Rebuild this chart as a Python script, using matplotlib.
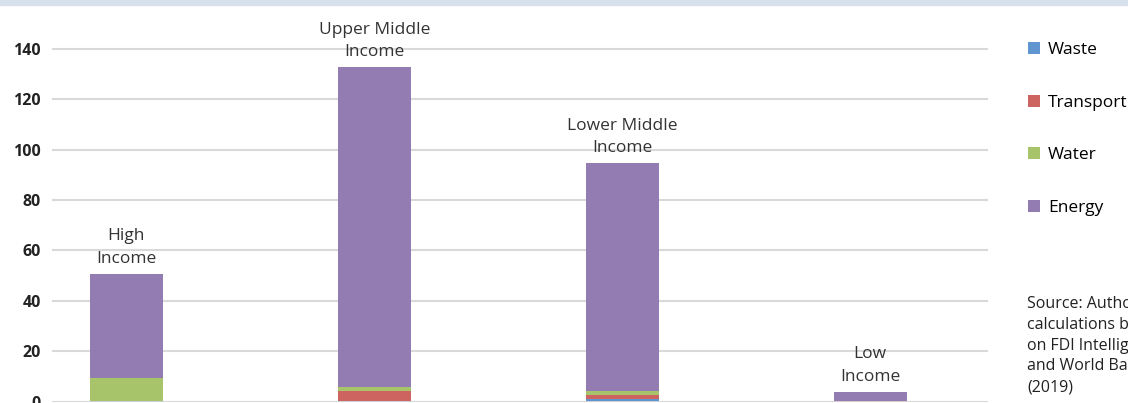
import matplotlib.pyplot as plt
from matplotlib.patches import Rectangle

plt.rcParams['font.family'] = ['Open Sans', 'DejaVu Sans']

# data
groups = ['High\nIncome', 'Upper Middle\nIncome', 'Lower Middle\nIncome', 'Low\nIncome']
waste = [0.3, 0.3, 1.0, 0.0]
transport = [0.0, 3.9, 1.6, 0.3]
water = [9.0, 1.6, 1.6, 0.0]
energy = [41.3, 126.9, 90.4, 3.5]

series = [('Waste', waste, '#5f96cf'),
          ('Transport', transport, '#cd6460'),
          ('Water', water, '#a8c46a'),
          ('Energy', energy, '#927cb2')]

fig = plt.figure(figsize=(11.28, 4.03), dpi=100)
ax = fig.add_axes([52 / 1128, 1.5 / 403, (988 - 52) / 1128, (401.5 - 23.5) / 403])

# light band at the top of the figure
fig.patches.append(Rectangle((0, 1 - 5 / 403), 1, 5 / 403, transform=fig.transFigure,
                             color='#d7e1ed', zorder=0))

x = range(len(groups))
bottom = [0.0] * len(groups)
handles = []
for name, vals, col in series:
    b = ax.bar(x, vals, width=0.295, bottom=bottom, color=col, label=name, zorder=3)
    handles.append(b)
    bottom = [bt + v for bt, v in zip(bottom, vals)]

for i, (lab, tot) in enumerate(zip(groups, bottom)):
    ax.annotate(lab, (i, tot), xytext=(0, 5), textcoords='offset points',
                ha='center', va='bottom', fontsize=12.5, color='#333333',
                linespacing=1.55, annotation_clip=False)

ax.set_xlim(-0.3, 3.475)
ax.set_ylim(0, 150)
ax.set_yticks(range(0, 141, 20))
ax.set_xticks([])
ax.yaxis.grid(True, color='#d9d9d9', linewidth=1.5, zorder=0)
ax.set_axisbelow(True)
for s in ax.spines.values():
    s.set_visible(False)
ax.tick_params(axis='y', length=0, pad=8, labelsize=11.5, labelcolor='#222222')
for t in ax.get_yticklabels():
    t.set_fontweight('bold')
ax.axhline(0, color='#d9d9d9', linewidth=2, zorder=4)

leg = fig.legend(handles=handles, loc='upper left', bbox_to_anchor=(1021 / 1128, 1 - 35 / 403),
                 frameon=False, fontsize=12.5, labelspacing=2.1, handlelength=0.7,
                 handleheight=0.7, handletextpad=0.45, borderaxespad=0)

fig.text(1027 / 1128, 1 - 296 / 403,
         "Source: Authors'\ncalculations based\non FDI Intelligence\nand World Bank\n(2019)",
         fontsize=11.5, color='#222222', va='top', ha='left', linespacing=1.4)

fig.savefig('out.png', dpi=100)
